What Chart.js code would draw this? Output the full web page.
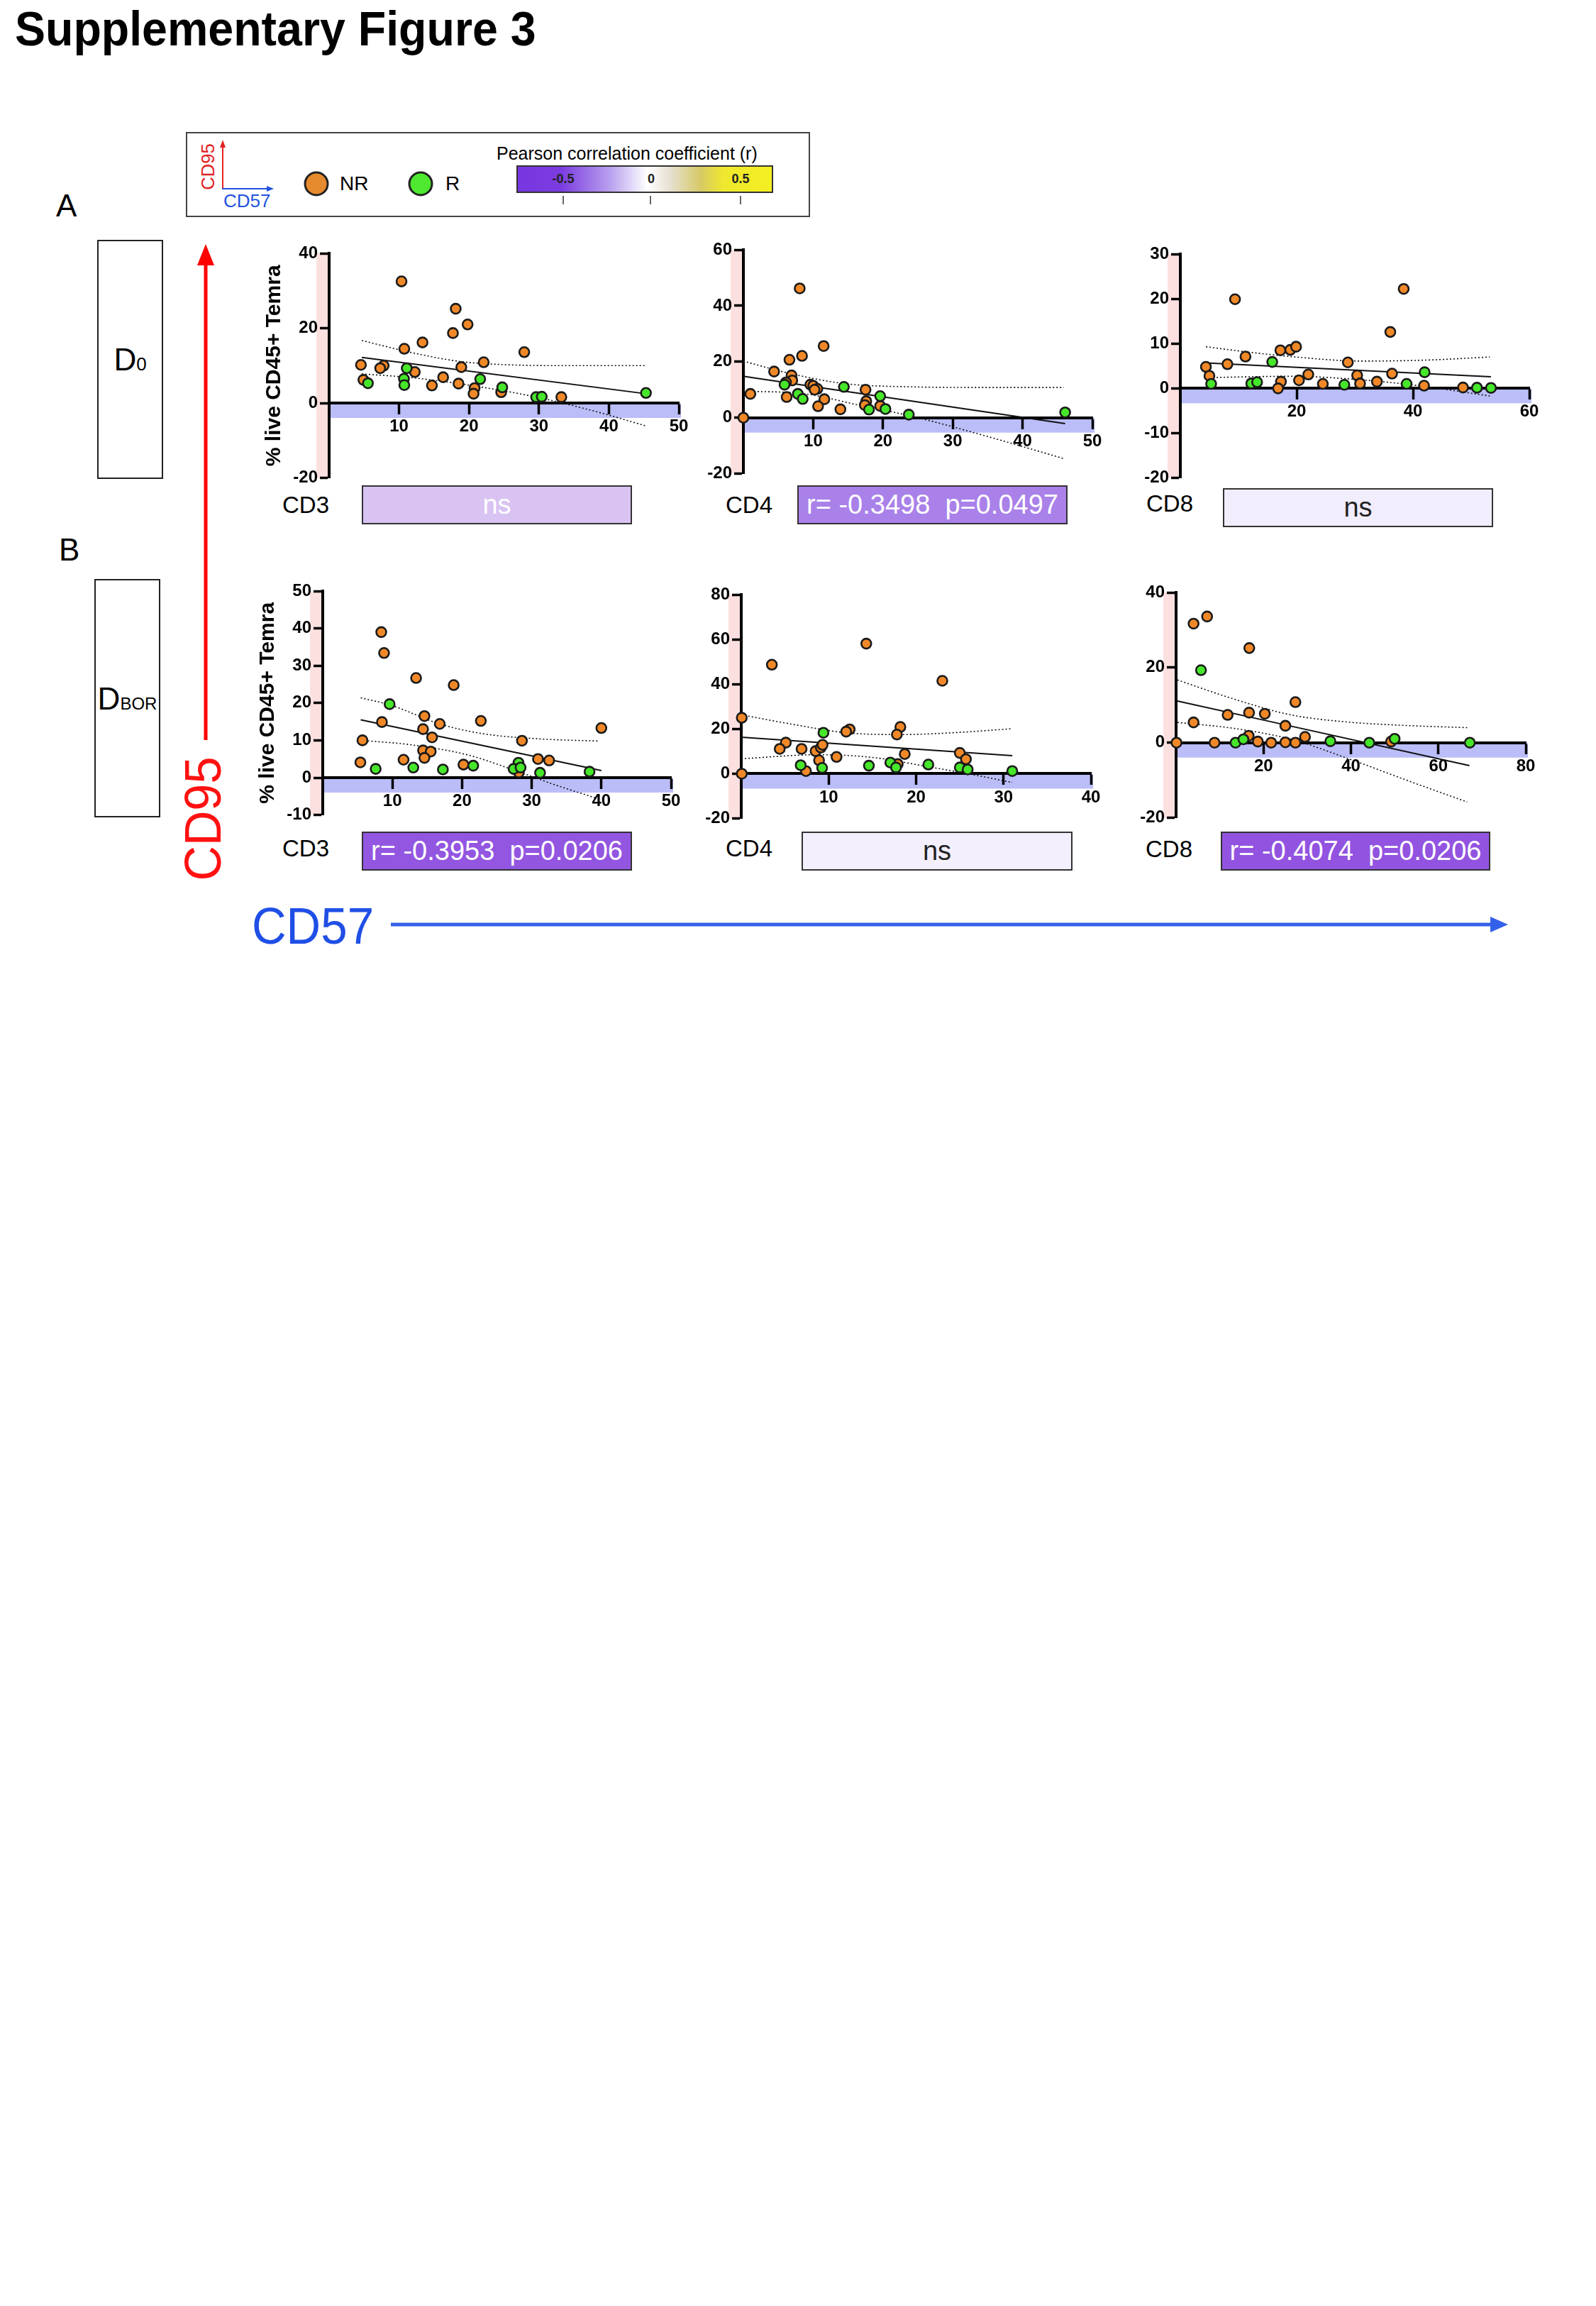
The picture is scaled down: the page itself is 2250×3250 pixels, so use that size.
<!DOCTYPE html>
<html>
<head>
<meta charset="utf-8">
<title>Supplementary Figure 3</title>
<script src="https://cdn.jsdelivr.net/npm/chart.js@4.4.1/dist/chart.umd.min.js"></script>
<style>
html,body{margin:0;padding:0;background:#fff;}
body{position:relative;width:2250px;height:3250px;font-family:"Liberation Sans",Arial,Helvetica,sans-serif;color:#000;overflow:hidden;}
.abs{position:absolute;white-space:pre;line-height:1;}
canvas{position:absolute;}
.stat{position:absolute;box-sizing:border-box;height:55px;border:2px solid #333;font-size:38px;text-align:center;line-height:51px;white-space:pre;}
.cell{position:absolute;font-size:33px;line-height:1;}
.dbox{position:absolute;box-sizing:border-box;border:2px solid #222;}
</style>
</head>
<body>

<div id="title" class="abs" style="left:21px;top:6px;font-weight:bold;font-size:68px;font-family:'Liberation Sans',Arial,sans-serif;transform-origin:0 0;">Supplementary Figure 3</div>

<!-- legend -->
<div class="dbox" style="left:262px;top:186px;width:880px;height:120px;border-color:#444;"></div>
<div id="cd95s" class="abs" style="left:293px;top:235px;font-size:26px;color:#e32222;">CD95</div>
<div class="abs" style="left:315px;top:270px;font-size:26px;color:#2352e0;">CD57</div>
<div class="abs" style="left:479px;top:245px;font-size:28px;">NR</div>
<div class="abs" style="left:628px;top:245px;font-size:28px;">R</div>
<div class="abs" style="left:700px;top:204px;font-size:25px;">Pearson correlation coefficient (r)</div>
<div class="dbox" style="left:728px;top:233px;width:362px;height:39px;border-color:#333;background:linear-gradient(to right,#7736df 0%,#7b3ce0 17%,#b79eee 36%,#ffffff 51%,#e6e0d2 60%,#d6c965 72%,#efe82e 81%,#f4ef22 100%);"></div>
<div class="abs" style="left:773px;top:243px;width:42px;text-align:center;font-size:18px;font-weight:bold;color:#222;">-0.5</div>
<div class="abs" style="left:897px;top:243px;width:42px;text-align:center;font-size:18px;font-weight:bold;color:#222;">0</div>
<div class="abs" style="left:1023px;top:243px;width:42px;text-align:center;font-size:18px;font-weight:bold;color:#222;">0.5</div>

<svg class="abs" style="left:0;top:0;" width="2250" height="1400">
<line x1="314" y1="267" x2="314" y2="206" stroke="#e32222" stroke-width="2"/>
<polygon points="310,208 318,208 314,197" fill="#e32222"/>
<line x1="313" y1="266" x2="377" y2="266" stroke="#2352e0" stroke-width="2"/>
<polygon points="376,262 376,270 386,266" fill="#2352e0"/>
<circle cx="446" cy="259" r="16" fill="#e68a2e" stroke="#222" stroke-width="3"/>
<circle cx="593" cy="259" r="16" fill="#4de82f" stroke="#222" stroke-width="3"/>
<line x1="794" y1="276" x2="794" y2="288" stroke="#333" stroke-width="1.5"/>
<line x1="917" y1="276" x2="917" y2="288" stroke="#333" stroke-width="1.5"/>
<line x1="1044" y1="276" x2="1044" y2="288" stroke="#333" stroke-width="1.5"/>
<line x1="290" y1="1043" x2="290" y2="372" stroke="#ff0000" stroke-width="5"/>
<polygon points="278,374 302,374 290,344" fill="#ff0000"/>
<line x1="551" y1="1303" x2="2104" y2="1303" stroke="#3461e9" stroke-width="5"/>
<polygon points="2101,1292 2101,1314 2126,1303" fill="#3461e9"/>
</svg>

<!-- row labels -->
<div class="abs" style="left:79px;top:268px;font-size:44px;">A</div>
<div class="abs" style="left:83px;top:753px;font-size:44px;">B</div>
<div class="dbox" style="left:137px;top:338px;width:93px;height:337px;"></div>
<div class="abs" style="left:137px;top:485px;width:93px;text-align:center;font-size:44px;">D<span style="font-size:26px;">0</span></div>
<div class="dbox" style="left:133px;top:816px;width:93px;height:336px;"></div>
<div class="abs" style="left:133px;top:963px;width:93px;text-align:center;font-size:44px;">D<span style="font-size:24px;">BOR</span></div>

<div id="cd95" class="abs" style="left:286px;top:1154px;font-size:72px;color:#ff1111;">CD95</div>
<div id="cd57" class="abs" style="left:355px;top:1269px;font-size:72px;color:#1f4fe6;transform-origin:0 0;">CD57</div>

<script>
Chart.defaults.font.family = "'Liberation Sans', Arial, sans-serif";

/* D0 */
const A_CD3_NR = [[10.35,32.5],[18.1,25.2],[19.8,21.0],[17.7,18.7],[13.35,16.2],[10.75,14.5],[27.9,13.6],[4.55,10.2],[7.8,10.0],[7.3,9.3],[22.1,10.9],[18.9,9.6],[12.25,8.3],[4.9,6.2],[16.3,6.9],[14.7,4.7],[18.5,5.2],[20.8,4.0],[20.65,2.5],[24.6,2.9],[33.2,1.6]];
const A_CD3_R = [[5.55,5.3],[11.1,9.3],[10.7,6.5],[10.75,4.8],[21.6,6.4],[24.75,4.2],[29.6,1.6],[30.4,1.7],[45.3,2.7]];
const A_CD3_FIT = [[4.67,12.2],[45.3,2.5]];
const A_CD3_UP = [[4.67,16.7],[12.25,13.3],[18.75,11.1],[26.05,10.2],[35,10.0],[45.3,10.0]];
const A_CD3_LO = [[4.67,7.8],[12.25,6.7],[22,4.2],[30.1,1.4],[38.2,-2.3],[45.3,-6.1]];
const A_CD3_XTICKS = [10,20,30,40,50];
const A_CD3_YTICKS = [-20,0,20,40];

const A_CD4_NR = [[8.07,46.2],[11.5,25.6],[8.4,22.1],[6.6,20.7],[4.4,16.5],[6.9,15.1],[7.0,13.3],[6.1,12.6],[9.6,11.8],[10.0,11.4],[10.6,10.3],[10.2,10.0],[1.0,8.5],[6.2,7.4],[11.6,6.6],[10.7,4.1],[13.9,3.0],[17.5,10.0],[17.6,5.9],[17.4,4.5],[19.6,4.2],[0,0]];
const A_CD4_R = [[5.9,11.8],[7.8,8.5],[8.5,6.7],[14.4,11.0],[19.6,7.7],[18.0,2.9],[20.35,3.1],[23.7,1.1],[46.1,1.9]];
const A_CD4_FIT = [[0,14.8],[46.1,-2.1]];
const A_CD4_UP = [[0,20.2],[6.5,15.9],[14.4,12.2],[24.6,11.0],[35,10.8],[45.9,10.8]];
const A_CD4_LO = [[0,9.5],[8.9,8.5],[16.7,4.4],[24.6,0.25],[34.4,-6.3],[45.9,-14.6]];
const A_CD4_XTICKS = [10,20,30,40,50];
const A_CD4_YTICKS = [-20,0,20,40,60];

const A_CD8_NR = [[9.4,19.9],[38.4,22.2],[36.1,12.6],[11.2,7.1],[17.2,8.5],[18.9,8.6],[19.9,9.3],[4.4,4.8],[8.1,5.4],[5.0,2.8],[28.8,5.8],[22.0,3.1],[20.4,1.8],[17.3,1.5],[16.8,0],[24.5,1.0],[30.4,2.9],[30.9,1.1],[33.8,1.5],[36.4,3.3],[41.9,0.6],[48.6,0.2]];
const A_CD8_R = [[5.3,1.0],[15.8,5.9],[12.2,1.1],[13.2,1.4],[28.2,0.8],[38.9,1.0],[42.0,3.6],[51.0,0.15],[53.4,0.1]];
const A_CD8_FIT = [[4.4,5.7],[53.4,2.6]];
const A_CD8_UP = [[4.4,9.3],[11.7,8.1],[19,7.1],[31.2,6.1],[42,6.3],[53.2,7.0]];
const A_CD8_LO = [[4.4,2.4],[19,2.7],[31.2,1.9],[41,0.6],[53.2,-1.7]];
const A_CD8_XTICKS = [20,40,60];
const A_CD8_YTICKS = [-20,-10,0,10,20,30];

/* DBOR */
const B_CD3_NR = [[8.4,39.0],[8.8,33.4],[13.4,26.7],[18.8,24.8],[14.6,16.5],[8.5,14.9],[16.8,14.4],[22.7,15.2],[14.4,13.0],[15.7,10.8],[5.7,10.0],[28.6,9.9],[40.0,13.3],[14.4,7.3],[15.5,7.0],[14.6,5.3],[5.4,4.1],[11.6,4.8],[20.2,3.5],[30.9,5.0],[32.5,4.6],[28.15,1.4]];
const B_CD3_R = [[9.6,19.7],[7.6,2.35],[13.0,2.7],[17.25,2.2],[21.6,3.2],[28.1,4.0],[27.4,2.35],[28.4,2.7],[31.2,1.3],[38.3,1.6]];
const B_CD3_FIT = [[5.45,15.5],[40.0,1.9]];
const B_CD3_UP = [[5.45,21.4],[9.8,19.4],[16.8,14.4],[22.9,11.8],[31,10.4],[39.7,9.8]];
const B_CD3_LO = [[5.45,10.0],[12.7,8.8],[20.8,6.1],[26.9,2.4],[33,-1.7],[39.1,-5.4]];
const B_CD3_XTICKS = [10,20,30,40,50];
const B_CD3_YTICKS = [-10,0,10,20,30,40,50];

const B_CD4_NR = [[14.3,58.1],[3.5,48.7],[23.0,41.5],[0.06,25.0],[12.4,19.8],[12.0,18.8],[18.2,20.9],[17.8,17.5],[5.1,13.9],[4.4,11.1],[6.9,11.1],[8.5,10.1],[9.1,11.7],[9.3,12.9],[8.9,6.0],[10.9,7.5],[18.7,8.8],[25.0,9.3],[25.7,6.5],[17.9,4.3],[7.4,1.2],[0.06,0]];
const B_CD4_R = [[9.4,18.3],[6.8,3.8],[9.25,2.6],[14.6,3.6],[17.05,5.0],[17.7,2.8],[21.4,4.1],[25.0,2.8],[25.9,1.9],[31.0,1.2]];
const B_CD4_FIT = [[0,16.3],[31.0,8.05]];
const B_CD4_UP = [[0,26.3],[5.7,22.2],[12,18.3],[18.3,17.5],[24.6,18.4],[31,20.1]];
const B_CD4_LO = [[0,6.7],[8.9,8.5],[15.2,7.2],[21.4,3.1],[26.2,-0.2],[31,-3.9]];
const B_CD4_XTICKS = [10,20,30,40];
const B_CD4_YTICKS = [-20,0,20,40,60,80];

const B_CD8_NR = [[7.1,33.6],[4.0,31.7],[16.75,25.2],[27.3,10.8],[16.7,8.0],[20.3,7.7],[11.8,7.4],[4.0,5.4],[25.0,4.5],[16.6,1.85],[29.5,1.55],[0.1,0],[8.8,0],[18.7,0.3],[21.75,0],[25.0,0.1],[27.3,0],[49.2,0.3]];
const B_CD8_R = [[5.7,19.3],[13.6,0],[15.4,0.9],[35.3,0.4],[44.2,0],[50.0,1.05],[67.2,0]];
const B_CD8_FIT = [[0.3,11.1],[67.1,-6.1]];
const B_CD8_UP = [[0.3,16.7],[13.3,11.6],[26.3,7.4],[39.3,5.5],[52.3,4.6],[66.6,4.0]];
const B_CD8_LO = [[0.3,5.4],[13.3,3.8],[26.3,0.9],[39.3,-4.2],[52.3,-9.8],[66.6,-15.8]];
const B_CD8_XTICKS = [20,40,60,80];
const B_CD8_YTICKS = [-20,0,20,40];

const CELLS = ['CD3','CD4','CD8','CD3','CD4','CD8'];
const STATS = ['ns','r= -0.3498  p=0.0497','ns','r= -0.3953  p=0.0206','ns','r= -0.4074  p=0.0206'];

const ORANGE = '#f08828', GREEN = '#46e62a';

/* where each plot sits on the page */
const panels = [
{nr:A_CD3_NR, r:A_CD3_R, fit:A_CD3_FIT, up:A_CD3_UP, lo:A_CD3_LO, xt:A_CD3_XTICKS, yt:A_CD3_YTICKS, x0:463.5, x1:956, yT:356.7, yB:681, title:true,
 box:[510,684,381,'#d9c3f3','#fff'], cell:[398,695]},
{nr:A_CD4_NR, r:A_CD4_R, fit:A_CD4_FIT, up:A_CD4_UP, lo:A_CD4_LO, xt:A_CD4_XTICKS, yt:A_CD4_YTICKS, x0:1047.5, x1:1539.5, yT:351.7, yB:675,
 box:[1124,684,381,'#a981e9','#fff'], cell:[1023,695]},
{nr:A_CD8_NR, r:A_CD8_R, fit:A_CD8_FIT, up:A_CD8_UP, lo:A_CD8_LO, xt:A_CD8_XTICKS, yt:A_CD8_YTICKS, x0:1664, x1:2156, yT:358.3, yB:681.7,
 box:[1724,688,381,'#f1edfc','#222'], cell:[1616,693]},
{nr:B_CD3_NR, r:B_CD3_R, fit:B_CD3_FIT, up:B_CD3_UP, lo:B_CD3_LO, xt:B_CD3_XTICKS, yt:B_CD3_YTICKS, x0:455.3, x1:946.8, yT:833.3, yB:1156.7, title:true,
 box:[510,1172,381,'#9356e1','#fff'], cell:[398,1179]},
{nr:B_CD4_NR, r:B_CD4_R, fit:B_CD4_FIT, up:B_CD4_UP, lo:B_CD4_LO, xt:B_CD4_XTICKS, yt:B_CD4_YTICKS, x0:1045, x1:1537.5, yT:838.3, yB:1161.7,
 box:[1130,1172,382,'#f3effd','#222'], cell:[1023,1179]},
{nr:B_CD8_NR, r:B_CD8_R, fit:B_CD8_FIT, up:B_CD8_UP, lo:B_CD8_LO, xt:B_CD8_XTICKS, yt:B_CD8_YTICKS, x0:1658, x1:2150.8, yT:835, yB:1160,
 box:[1721,1172,380,'#9254e0','#fff'], cell:[1615,1180]}
];

/* pink strip left of y axis, blue strip under x axis */
const bands = {
id:'bands',
beforeDraw(chart){
const {ctx, scales:{x, y}} = chart;
const x0 = x.getPixelForValue(0), y0 = y.getPixelForValue(0);
ctx.save();
ctx.fillStyle = '#fce0e0';
ctx.fillRect(x0 - 18, y.top, 18, y.bottom - y.top);
ctx.fillStyle = '#babdf7';
ctx.fillRect(x0, y0, x.right - x0 + 3, 21);
ctx.restore();
}
};

function pts(a){ return a.map(p => ({x:p[0], y:p[1]})); }

function line(d, dash, width){
return {type:'line', data:pts(d), borderColor:'#111', borderWidth:width, borderDash:dash,
pointRadius:0, fill:false, clip:false, cubicInterpolationMode:'monotone', order:3};
}

function dots(d, col, ord){
return {type:'scatter', data:pts(d), backgroundColor:col, borderColor:'#1a1a1a',
borderWidth:2.6, pointRadius:7, clip:false, order:ord};
}

panels.forEach((p, i) => {

const c = document.createElement('canvas');
const w = Math.round(p.x1 - p.x0) + 140, h = Math.round(p.yB - p.yT) + 35;
c.width = w; c.height = h;
c.style.left = Math.round(p.x0 - 100) + 'px';
c.style.top = Math.round(p.yT - 25) + 'px';
c.style.width = w + 'px'; c.style.height = h + 'px';
document.body.appendChild(c);

new Chart(c, {
type:'scatter',
data:{datasets:[
line(p.fit, [], 2),
line(p.up, [2,3], 1.6),
line(p.lo, [2,3], 1.6),
dots(p.nr, ORANGE, 2),
dots(p.r, GREEN, 1)
]},
options:{
responsive:false,
animation:false,
devicePixelRatio:1,
layout:{padding:{top:25, right:40, bottom:10, left:0}},
plugins:{legend:{display:false}, tooltip:{enabled:false}},
scales:{
x:{
type:'linear', position:{y:0},
min:0, max:p.xt[p.xt.length - 1],
afterBuildTicks: s => { s.ticks = p.xt.map(v => ({value:v})); },
ticks:{color:'#000', font:{size:24, weight:'bold'}, padding:5, maxRotation:0},
grid:{drawOnChartArea:false, tickLength:14, tickWidth:3.5, tickColor:'#000'},
border:{width:4, color:'#000'}
},
y:{
type:'linear',
min:p.yt[0], max:p.yt[p.yt.length - 1],
afterBuildTicks: s => { s.ticks = p.yt.map(v => ({value:v})); },
afterFit: s => { s.width = 100; },
ticks:{color:'#000', font:{size:24, weight:'bold'}, padding:3},
grid:{drawOnChartArea:false, tickLength:13, tickWidth:3.5, tickColor:'#000'},
border:{width:4, color:'#000'},
title:{display:!!p.title, text:'% live CD45+ Temra', color:'#000',
font:{size:30, weight:'bold'}, padding:{top:5, bottom:0}}
}
}
},
plugins:[bands]
});

const b = document.createElement('div');
b.className = 'stat';
b.style.left = p.box[0] + 'px'; b.style.top = p.box[1] + 'px'; b.style.width = p.box[2] + 'px';
b.style.background = p.box[3]; b.style.color = p.box[4];
b.textContent = STATS[i];
document.body.appendChild(b);

const t = document.createElement('div');
t.className = 'cell';
t.style.left = p.cell[0] + 'px'; t.style.top = p.cell[1] + 'px';
t.textContent = CELLS[i];
document.body.appendChild(t);

});

/* squeeze a few headings to the measured widths */
const title = document.getElementById('title');
title.style.transform = 'scaleX(' + (735 / title.offsetWidth) + ')';

const cd57 = document.getElementById('cd57');
cd57.style.transform = 'scaleX(' + (172 / cd57.offsetWidth) + ')';

const cd95 = document.getElementById('cd95');
cd95.style.transform = 'translate(-50%,-50%) rotate(-90deg) scaleX(' + (175 / cd95.offsetWidth) + ')';

const cd95s = document.getElementById('cd95s');
cd95s.style.transform = 'translate(-50%,-50%) rotate(-90deg) scaleX(' + (65 / cd95s.offsetWidth) + ')';
</script>
</body>
</html>
